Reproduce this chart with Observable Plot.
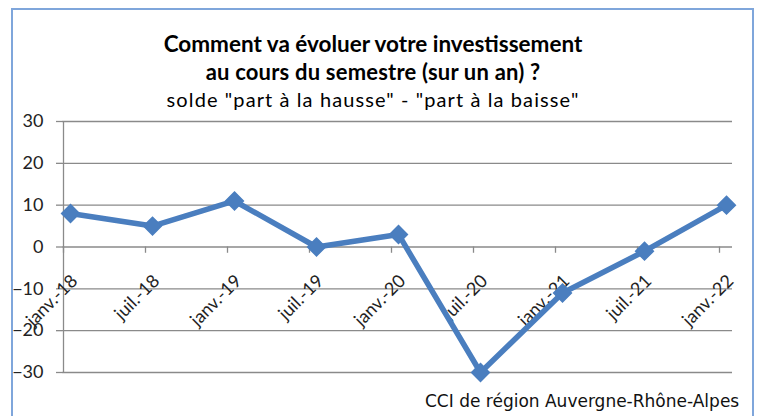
<!DOCTYPE html>
<html>
<head>
<meta charset="utf-8">
<script src="https://cdn.jsdelivr.net/npm/d3@7"></script>
<script src="https://cdn.jsdelivr.net/npm/@observablehq/plot@0.6"></script>
<style>
  html, body { margin: 0; padding: 0; background: #fff; }
  #wrap { position: relative; width: 760px; height: 416px; overflow: hidden; background: #fff; }
  #frame { position: absolute; left: 11px; top: 8px; width: 743px; height: 420px; border: 2px solid #7fa6db; box-sizing: border-box; }
  .t { position: absolute; left: 0; width: 746px; text-align: center; color: #000; white-space: nowrap; line-height: 22px; }
  #t1 { top: 33px; font-weight: bold; font-size: 22.5px; font-family: Lato, sans-serif; }
  #t2 { top: 61px; font-weight: bold; font-size: 22px; font-family: Lato, sans-serif; letter-spacing: 0.2px; }
  #t3 { top: 88px; font-size: 20px; font-family: Lato, sans-serif; letter-spacing: 1.1px; }
  #cap { position: absolute; left: 425px; top: 391px; font: 17px "DejaVu Sans", sans-serif; color: #111; white-space: nowrap; }
  #plot { position: absolute; left: 0; top: 0; }
</style>
</head>
<body>
<div id="wrap">
  <div id="plot"></div>
  <div id="frame"></div>
  <div class="t" id="t1">Comment va évoluer votre investissement</div>
  <div class="t" id="t2">au cours du semestre (sur un an) ?</div>
  <div class="t" id="t3">solde "part à la hausse" - "part à la baisse"</div>
  <div id="cap">CCI de région Auvergne-Rhône-Alpes</div>
</div>
<script>
const labels = ["janv.-18","juil.-18","janv.-19","juil.-19","janv.-20","juil.-20","janv.-21","juil.-21","janv.-22"];
const values = [8, 5, 11, 0, 3, -30, -11, -1, 10];
const yTicks = [-30, -20, -10, 0, 10, 20, 30];

const data = labels.map((l, i) => ({label: l, value: values[i]}));
const blue = "#4a7ebf";
const gray = "#8a8a8a";

const chart = Plot.plot({
  width: 760,
  height: 416,
  marginTop: 121,
  marginBottom: 44,
  marginLeft: 62,
  marginRight: 28,
  style: {background: "transparent", overflow: "visible"},
  x: {type: "point", domain: labels, range: [69, 726], padding: 0, axis: null},
  y: {domain: [-30, 30]},
  marks: [
    Plot.ruleY(yTicks, {stroke: gray, strokeWidth: 1.3}),
    Plot.ruleX([labels[0]], {y1: -30, y2: 30, dx: -7, stroke: gray, strokeWidth: 1.3}),
    Plot.axisY(yTicks, {tickSize: 6, tickPadding: 13, fontSize: 18, fontFamily: "Lato, sans-serif", stroke: gray, strokeWidth: 1.3, color: "#222", label: null}),
    Plot.ruleX(labels, {x: d => d, y1: 0, y2: -1.5, dx: -7, stroke: gray, strokeWidth: 1.3}),
    Plot.text(labels, {x: d => d, y: 0, text: d => d, rotate: -45, textAnchor: "end", dx: 4, dy: 31, fontSize: 18, fontFamily: "Lato, sans-serif", fill: "#222"}),
    Plot.line(data, {x: "label", y: "value", stroke: blue, strokeWidth: 5.5, strokeLinejoin: "miter"}),
    Plot.dot(data, {x: "label", y: "value", symbol: "diamond2", r: 8, fill: blue, stroke: blue})
  ]
});
document.getElementById("plot").appendChild(chart);
</script>
</body>
</html>
